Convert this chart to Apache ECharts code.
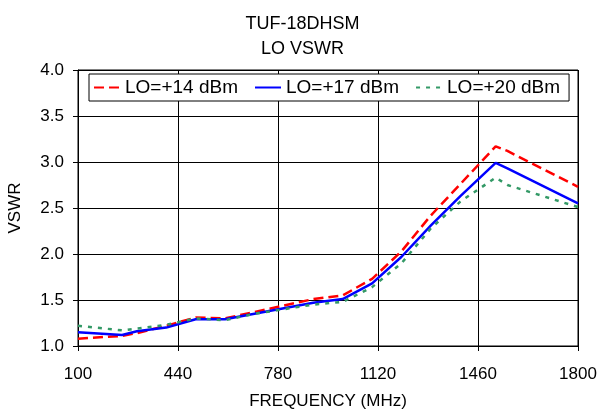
<!DOCTYPE html>
<html>
<head>
<meta charset="utf-8">
<script src="https://cdn.jsdelivr.net/npm/echarts@6/dist/echarts.min.js"></script>
<style>
  html, body { margin: 0; padding: 0; background: #fff; }
  #chart { width: 605px; height: 411px; }
</style>
</head>
<body>
<div id="chart"></div>
<script>
// frequency points (MHz)
const freq = [100, 250, 300, 400, 500, 600, 700, 800, 900, 1000, 1100, 1200, 1300, 1400, 1520, 1560, 1800]
// VSWR per LO level
const lo14 = [1.08, 1.11, 1.14, 1.22, 1.31, 1.30, 1.37, 1.44, 1.51, 1.55, 1.73, 2.03, 2.42, 2.76, 3.17, 3.12, 2.73]
const lo17 = [1.15, 1.12, 1.16, 1.20, 1.29, 1.29, 1.35, 1.41, 1.47, 1.51, 1.68, 1.97, 2.31, 2.63, 2.99, 2.93, 2.55]
const lo20 = [1.22, 1.17, 1.19, 1.23, 1.30, 1.28, 1.35, 1.40, 1.45, 1.48, 1.64, 1.90, 2.28, 2.57, 2.83, 2.75, 2.51]
const names = ['LO=+14 dBm', 'LO=+17 dBm', 'LO=+20 dBm']

const pairs = function (ys) {
    return freq.map((f, i) => [f, ys[i]])
}

const font = 'Liberation Sans, Arial, sans-serif'

const makeSeries = function (name, ys, color, type) {
    return {
        name: name,
        type: 'line',
        data: pairs(ys),
        showSymbol: false,
        symbol: 'none',
        lineStyle: { color: color, width: 2.5, type: type },
        itemStyle: { color: color },
    }
}

const chart = echarts.init(document.getElementById('chart'))
chart.setOption({
    animation: false,
    backgroundColor: '#fff',
    title: {
        text: 'TUF-18DHSM\nLO VSWR',
        left: 'center',
        top: 7,
        textStyle: { fontFamily: font, fontSize: 18, fontWeight: 'normal', color: '#000', lineHeight: 25 },
    },
    legend: {
        data: names,
        top: 74,
        left: 89,
        itemGap: 16,
        itemWidth: 26,
        itemHeight: 10,
        padding: [4, 9, 4, 4],
        backgroundColor: '#fff',
        borderColor: '#000',
        borderWidth: 1,
        itemStyle: { opacity: 0 },
        textStyle: { fontFamily: font, fontSize: 19, color: '#000' },
    },
    grid: {
        left: 78, right: 27, top: 70, bottom: 65,
        outerBoundsMode: 'none',
        containLabel: false,
        show: true, borderColor: '#000', borderWidth: 1,
    },
    xAxis: {
        type: 'value',
        min: 100,
        max: 1800,
        interval: 340,
        name: 'FREQUENCY (MHz)',
        nameLocation: 'middle',
        nameGap: 47,
        nameTextStyle: { fontFamily: font, fontSize: 17, color: '#000' },
        axisLine: { lineStyle: { color: '#000' } },
        axisTick: { show: true, length: 5, lineStyle: { color: '#000' } },
        axisLabel: { fontFamily: font, fontSize: 17, color: '#000', margin: 20, formatter: v => String(v) },
        splitLine: { show: true, lineStyle: { color: '#000', width: 1 } },
    },
    yAxis: {
        type: 'value',
        min: 1.0,
        max: 4.0,
        interval: 0.5,
        name: 'VSWR',
        nameLocation: 'middle',
        nameGap: 54,
        nameTextStyle: { fontFamily: font, fontSize: 17, color: '#000' },
        axisLine: { show: true, lineStyle: { color: '#000' } },
        axisTick: { show: true, length: 5, lineStyle: { color: '#000' } },
        axisLabel: { fontFamily: font, fontSize: 17, color: '#000', margin: 14, formatter: v => v.toFixed(1) },
        splitLine: { show: true, lineStyle: { color: '#000', width: 1 } },
    },
    series: [
        makeSeries(names[0], lo14, '#ff0000', [10, 5]),
        makeSeries(names[1], lo17, '#0000ff', 'solid'),
        makeSeries(names[2], lo20, '#339966', [4, 6]),
    ],
})
</script>
</body>
</html>
